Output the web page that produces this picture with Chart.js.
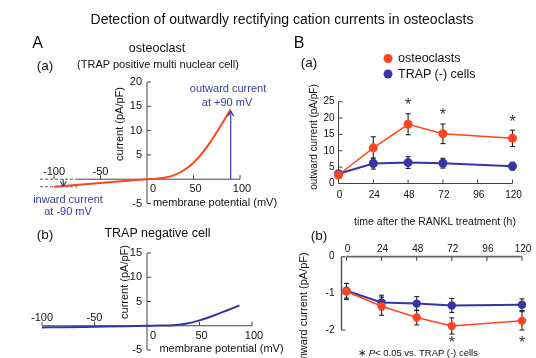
<!DOCTYPE html>
<html><head><meta charset="utf-8">
<script src="https://cdn.jsdelivr.net/npm/chart.js@4"></script>
<style>
body{margin:0;width:536px;height:358px;overflow:hidden;background:#fff;font-family:"Liberation Sans",Arial,sans-serif;color:#111;position:relative;}
canvas{position:absolute;left:0;top:0;}
.t{position:absolute;white-space:nowrap;transform:translate(-50%,-50%);line-height:1;}
.l{position:absolute;white-space:nowrap;transform:translate(0,-50%);line-height:1;}
.v{position:absolute;white-space:nowrap;transform:translate(-50%,-50%) rotate(-90deg);line-height:1;}
.blue{color:#3a3aa8;}
</style></head><body>
<canvas id="cAa" width="536" height="358"></canvas>
<canvas id="cAb" width="536" height="358"></canvas>
<canvas id="cBa" width="536" height="358"></canvas>
<canvas id="cBb" width="536" height="358"></canvas>

<div class="t" style="left:282px;top:19px;font-size:14px;">Detection of outwardly rectifying cation currents in osteoclasts</div>
<div class="t" style="left:37.5px;top:43px;font-size:16px;">A</div>
<div class="t" style="left:299px;top:43px;font-size:16px;">B</div>
<div class="t" style="left:157px;top:48px;font-size:12.5px;">osteoclast</div>
<div class="t" style="left:45px;top:66px;font-size:13.5px;">(a)</div>
<div class="t" style="left:158px;top:64px;font-size:11px;">(TRAP positive multi nuclear cell)</div>
<div class="t blue" style="left:228px;top:88px;font-size:11px;">outward current</div>
<div class="t blue" style="left:227px;top:102px;font-size:11px;">at +90 mV</div>
<div class="t blue" style="left:68px;top:198.5px;font-size:11px;">inward current</div>
<div class="t blue" style="left:68px;top:211px;font-size:11px;">at -90 mV</div>
<div class="v" style="left:118.5px;top:124px;font-size:11px;">current (pA/pF)</div>
<div class="t" style="left:215px;top:202px;font-size:11px;">membrane potential (mV)</div>
<div class="t" style="left:45px;top:235px;font-size:13.5px;">(b)</div>
<div class="t" style="left:157.5px;top:233px;font-size:12.5px;">TRAP negative cell</div>
<div class="v" style="left:123.5px;top:282px;font-size:11px;">current (pA/pF)</div>
<div class="t" style="left:221.5px;top:348px;font-size:11px;">membrane potential (mV)</div>

<div class="t" style="left:309px;top:63px;font-size:13.5px;">(a)</div>
<div class="l" style="left:398px;top:58px;font-size:12.5px;">osteoclasts</div>
<div class="l" style="left:398px;top:73.5px;font-size:12.5px;">TRAP (-) cells</div>
<div class="v" style="left:314px;top:137px;font-size:10px;">outward current (pA/pF)</div>
<div class="t" style="left:435px;top:221px;font-size:10.5px;">time after the RANKL treatment (h)</div>
<div class="t" style="left:319px;top:236px;font-size:13.5px;">(b)</div>
<div class="v" style="left:303px;top:307px;font-size:11px;">inward current (pA/pF)</div>
<div class="t" style="left:418px;top:353px;font-size:9.5px;">&#8727; <i>P</i>&lt; 0.05 vs. TRAP (-) cells</div>

<script>
// ---------- data ----------
const ivA_mV   = [-100,-80,-60,-40,-20,0,10,20,30,40,50,60,70,80,90];
const ivA_curr = [-1.55,-1.25,-0.95,-0.63,-0.3,0,0.1,0.35,0.9,1.9,3.4,5.5,8.2,11.2,14.4];
const ivB_mV   = [-100,-80,-60,-40,-20,0,12,25,38,50,63,76,88];
const ivB_curr = [-0.35,-0.3,-0.24,-0.17,-0.09,0,0.05,0.12,0.45,1.1,2.05,3.15,4.2];
const hours = [0,24,48,72,120];
const outOC = [2.6,10.9,18.1,15.2,13.8];
const outOCerr = [0.5,3.4,3.2,3.0,2.5];
const outTRAP = [3.0,6.1,6.4,6.2,5.3];
const outTRAPerr = [0.4,1.7,1.8,1.5,1.2];
const inOC = [-0.95,-1.35,-1.66,-1.89,-1.75];
const inOCerr = [0.22,0.25,0.2,0.22,0.25];
const inTRAP = [-0.93,-1.25,-1.28,-1.33,-1.31];
const inTRAPerr = [0.2,0.2,0.19,0.19,0.16];
const sigOut = [48,72,120];
const sigIn = [72,120];
const ivTicksX = [-100,-50,0,50,100];
const ivATicksY = [-5,0,5,10,15,20];
const ivBTicksY = [-5,0,5,10,15];
const hourTicks = [0,24,48,72,96,120];
const outTicksY = [0,5,10,15,20,25];
const inTicksY = [0,-1,-2];
const arrowsA = [-90,90];
const arrowLevels = [-1.45,14.0];

const ORANGE = '#ff4520', BLUE = '#3535a5', AXIS = '#444', INK = '#111', ANN = '#3a3aa8';
const FONT = '"Liberation Sans", Arial, sans-serif';

function pairs(xs, ys){ return xs.map((x,i)=>({x, y:ys[i]})); }
function line(ctx,x1,y1,x2,y2,color,w,dash){
  ctx.save(); ctx.beginPath(); ctx.strokeStyle=color||AXIS; ctx.lineWidth=w||1;
  ctx.setLineDash(dash||[]); ctx.moveTo(x1,y1); ctx.lineTo(x2,y2); ctx.stroke(); ctx.restore();
}
function txt(ctx,s,x,y,align,size){
  ctx.save(); ctx.fillStyle=INK; ctx.font=(size||11)+'px '+FONT; ctx.textAlign=align||'center';
  ctx.textBaseline='middle'; ctx.fillText(s,x,y); ctx.restore();
}
function star(ctx,x,y){
  ctx.save(); ctx.fillStyle='#333'; ctx.font='16px '+FONT; ctx.textAlign='center';
  ctx.textBaseline='middle'; ctx.fillText('*',x,y+4); ctx.restore();
}
function arrow(ctx,x,y1,y2,color){
  line(ctx,x,y1,x,y2,color,1.2);
  const d = y2<y1 ? 1 : -1;
  line(ctx,x,y2,x-3,y2+5*d,color,1.2);
  line(ctx,x,y2,x+3,y2+5*d,color,1.2);
}
function errBars(ctx,x,y,xs,vals,errs){
  xs.forEach((h,i)=>{
    const px=x.getPixelForValue(h), t=y.getPixelForValue(vals[i]+errs[i]), b=y.getPixelForValue(vals[i]-errs[i]);
    line(ctx,px,t,px,b,'#222',1.1);
    line(ctx,px-2.5,t,px+2.5,t,'#222',1.1);
    line(ctx,px-2.5,b,px+2.5,b,'#222',1.1);
  });
}

function baseOptions(area, xr, yr){
  return {
    responsive:false, animation:false, events:[],
    layout:{padding:{left:area[0], right:536-area[1], top:area[2], bottom:358-area[3]}},
    scales:{
      x:{type:'linear',display:false,min:xr[0],max:xr[1]},
      y:{type:'linear',display:false,min:yr[0],max:yr[1]}
    },
    plugins:{legend:{display:false},tooltip:{enabled:false}}
  };
}

function ivPlugin(yTicks, axisStart, dashed){
  return {
    id:'ivAxes',
    beforeDatasetsDraw(chart){
      const {ctx, scales:{x,y}} = chart;
      const x0=x.getPixelForValue(0), y0=y.getPixelForValue(0);
      line(ctx,x0,y.getPixelForValue(yTicks[0]),x0,y.getPixelForValue(yTicks[yTicks.length-1]));
      yTicks.forEach(v=>{
        const py=y.getPixelForValue(v);
        line(ctx,x0,py,x0+4,py);
        if(v!==0) txt(ctx,String(v),x0-5,py,'right');
      });
      line(ctx,x.getPixelForValue(axisStart),y0,x.getPixelForValue(100),y0);
      ivTicksX.forEach(v=>{
        const px=x.getPixelForValue(v);
        if(v!==0) line(ctx,px,y0,px,y0-4);
        if(v<0) txt(ctx,String(v),px,y0-7.5,'center');
        else txt(ctx,String(v),px+(v===0?6:2),y0+10,'center');
      });
      if(dashed){
        dashed.forEach(v=>{
          const py=y.getPixelForValue(v);
          line(ctx,x.getPixelForValue(-115),py,x.getPixelForValue(axisStart),py,'#555',1,[3,2]);
        });
      }
    },
    afterDatasetsDraw(chart){
      if(!dashed) return;
      const {ctx, scales:{x,y}} = chart;
      const y0=y.getPixelForValue(0);
      arrowsA.forEach((mv,i)=>{
        arrow(ctx,x.getPixelForValue(mv),y0,y.getPixelForValue(arrowLevels[i]),ANN);
      });
    }
  };
}

// ---------- A(a) ----------
new Chart(document.getElementById('cAa'), {
  type:'line',
  data:{datasets:[{data:pairs(ivA_mV,ivA_curr),borderColor:ORANGE,borderWidth:2,pointRadius:0,cubicInterpolationMode:'monotone',clip:false}]},
  options:baseOptions([54,240,82,203.5],[-100,100],[-5,20]),
  plugins:[ivPlugin(ivATicksY,-75,[0,-1.55])]
});

// ---------- A(b) ----------
new Chart(document.getElementById('cAb'), {
  type:'line',
  data:{datasets:[{data:pairs(ivB_mV,ivB_curr),borderColor:BLUE,borderWidth:2,pointRadius:0,cubicInterpolationMode:'monotone',clip:false}]},
  options:baseOptions([42,252,253,350],[-100,100],[-5,15]),
  plugins:[ivPlugin(ivBTicksY,-100,null)]
});

// ---------- B(a) ----------
new Chart(document.getElementById('cBa'), {
  type:'line',
  data:{datasets:[
    {data:pairs(hours,outOC),borderColor:ORANGE,backgroundColor:ORANGE,borderWidth:1.5,pointRadius:4.5,pointBorderWidth:0,clip:false},
    {data:pairs(hours,outTRAP),borderColor:BLUE,backgroundColor:BLUE,borderWidth:2,pointRadius:4.5,pointBorderWidth:0,clip:false}
  ]},
  options:baseOptions([338.5,512.5,101.7,183.5],[0,120],[0,25]),
  plugins:[{
    id:'bAxes',
    beforeDatasetsDraw(chart){
      const {ctx, scales:{x,y}} = chart;
      const x0=x.getPixelForValue(0), y0=y.getPixelForValue(0);
      line(ctx,x0,y0,x0,y.getPixelForValue(25));
      outTicksY.forEach(v=>{const py=y.getPixelForValue(v); line(ctx,x0,py,x0+4,py); txt(ctx,String(v),x0-4,py,'right',10);});
      line(ctx,x0,y0,x.getPixelForValue(120),y0);
      hourTicks.forEach(h=>{const px=x.getPixelForValue(h); line(ctx,px,y0,px,y0-4); txt(ctx,String(h),px+1,y0+11.5,'center',10);});
      errBars(ctx,x,y,hours,outTRAP,outTRAPerr);
      errBars(ctx,x,y,hours,outOC,outOCerr);
    },
    afterDatasetsDraw(chart){
      const {ctx, scales:{x,y}} = chart;
      sigOut.forEach(h=>{
        const i=hours.indexOf(h);
        star(ctx,x.getPixelForValue(h),y.getPixelForValue(outOC[i]+outOCerr[i])-12);
      });
      [[ORANGE,58.5],[BLUE,74]].forEach(([c,py])=>{
        ctx.save(); ctx.beginPath(); ctx.fillStyle=c; ctx.arc(388,py,4.5,0,Math.PI*2); ctx.fill(); ctx.restore();
      });
    }
  }]
});

// ---------- B(b) ----------
new Chart(document.getElementById('cBb'), {
  type:'line',
  data:{datasets:[
    {data:pairs(hours,inOC),borderColor:ORANGE,backgroundColor:ORANGE,borderWidth:1.5,pointRadius:4.2,pointBorderWidth:0,clip:false},
    {data:pairs(hours,inTRAP),borderColor:BLUE,backgroundColor:BLUE,borderWidth:2,pointRadius:4.2,pointBorderWidth:0,clip:false}
  ]},
  options:baseOptions([346.5,522,256.7,330],[0,120],[-2,0]),
  plugins:[{
    id:'bbAxes',
    beforeDatasetsDraw(chart){
      const {ctx, scales:{x,y}} = chart;
      const y0=y.getPixelForValue(0), xa=x.getPixelForValue(0)-5;
      line(ctx,xa,y0,xa,y.getPixelForValue(-2),'#555',1.5);
      inTicksY.forEach(v=>{const py=y.getPixelForValue(v); line(ctx,xa,py,xa+4,py,'#555',1.2); txt(ctx,String(v),xa-7,py,'right',10);});
      line(ctx,x.getPixelForValue(0),y0,x.getPixelForValue(120),y0,'#666',1.8);
      hourTicks.forEach(h=>{const px=x.getPixelForValue(h); line(ctx,px,y0,px,y0+4,'#555',1.2); txt(ctx,String(h),px+1,y0-7,'center',10);});
      errBars(ctx,x,y,hours,inTRAP,inTRAPerr);
      errBars(ctx,x,y,hours,inOC,inOCerr);
    },
    afterDatasetsDraw(chart){
      const {ctx, scales:{x,y}} = chart;
      sigIn.forEach(h=>{ star(ctx,x.getPixelForValue(h),y.getPixelForValue(-2.25)); });
    }
  }]
});
</script>
</body></html>
